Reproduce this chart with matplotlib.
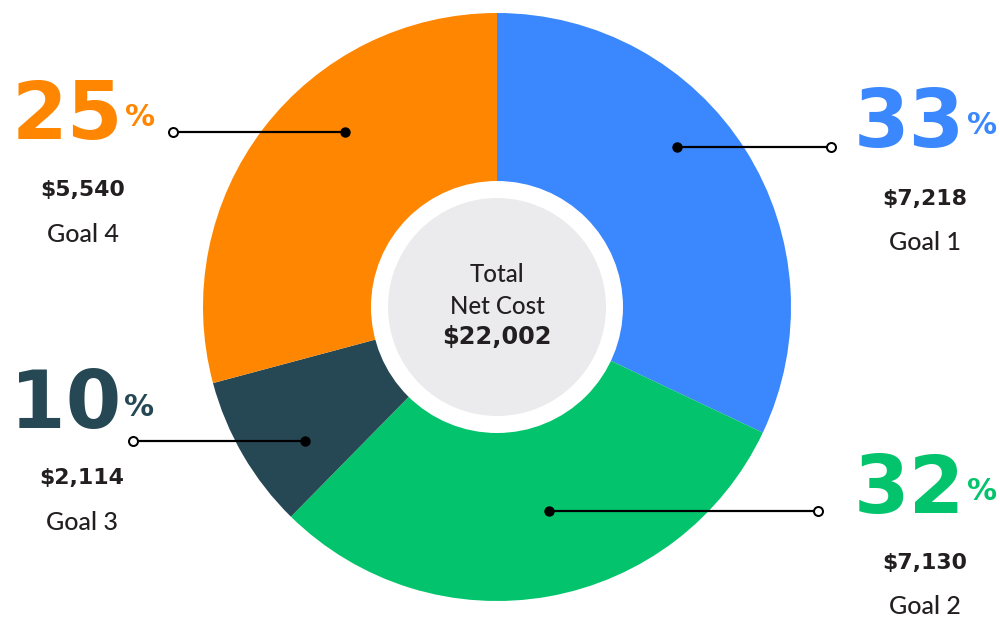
import matplotlib
matplotlib.use("Agg")
import matplotlib.pyplot as plt
from matplotlib.patches import Circle

# ---- data ----
goals = ["Goal 1", "Goal 2", "Goal 3", "Goal 4"]
amounts = ["$7,218", "$7,130", "$2,114", "$5,540"]
percents = ["33", "32", "10", "25"]
# slice sizes as drawn in the picture (degrees of arc)
slice_share = [115.3, 109.2, 30.5, 105.0]
colors = ["#3b87fd", "#03c46c", "#264855", "#ff8600"]
total_title = ["Total", "Net Cost"]
total_value = "$22,002"

TXT = "#231f20"
PX = 72 / 100  # pt per pixel

fig = plt.figure(figsize=(10, 6.21), dpi=100)
ax = fig.add_axes([0, 0, 1, 1])

cx, cy, R = 497, 307, 294
ax.pie(slice_share, colors=colors, startangle=-90, counterclock=True,
       center=(cx, cy), radius=R, wedgeprops=dict(linewidth=0))
ax.add_patch(Circle((cx, cy), 126, facecolor="white", edgecolor="none", zorder=3))
ax.add_patch(Circle((cx, cy), 109, facecolor="#ebebed", edgecolor="none", zorder=4))
ax.set_xlim(0, 1000)
ax.set_ylim(621, 0)
ax.set_aspect("auto")
ax.axis("off")

# center text
ax.text(cx, 274, total_title[0], ha="center", va="center", fontsize=24 * PX,
        family="Lato", fontweight="medium", color=TXT, zorder=5)
ax.text(cx, 306.5, total_title[1], ha="center", va="center", fontsize=24 * PX,
        family="Lato", fontweight="medium", color=TXT, zorder=5)
ax.text(cx, 337, total_value, ha="center", va="center", fontsize=24 * PX,
        family="DejaVu Sans", fontweight="bold", color=TXT, zorder=5)

# layout of labels: (dot x, dot y, open end x, label center x, big number y, amount y, goal y)
layout = [
    (677, 147, 831, 925, 125, 199, 243),
    (549, 511, 818, 925, 491, 563.5, 607),
    (305, 441, 133, 82, 406, 478, 523),
    (345, 132, 173, 83, 117, 190, 234.5),
]

fig.canvas.draw()
r = fig.canvas.get_renderer()
for i, (dx, dy, ex, lx, ny, ay, gy) in enumerate(layout):
    ax.plot([dx, ex], [dy, dy], color="black", lw=2.2 * PX, zorder=6,
            solid_capstyle="butt")
    ax.plot([dx], [dy], marker="o", ms=9 * PX, color="black", zorder=7)
    ax.plot([ex], [dy], marker="o", ms=9 * PX, mfc="white", mec="black",
            mew=2 * PX, zorder=7)
    # big percent number + small % sign, grouped & centered at lx
    big = ax.text(0, ny, percents[i], ha="left", va="center",
                  fontsize=80 * PX, family="DejaVu Sans", fontweight="bold",
                  color=colors[i], zorder=6)
    bw = big.get_window_extent(r).width
    pct = ax.text(0, ny + 1, "%", ha="left", va="center",
                  fontsize=30 * PX, family="DejaVu Sans", fontweight="bold",
                  color=colors[i], zorder=6)
    pw = pct.get_window_extent(r).width
    gap = 2
    tot = bw + gap + pw
    x0 = lx - tot / 2
    big.set_x(x0)
    pct.set_x(x0 + bw + gap)
    ax.text(lx, ay, amounts[i], ha="center", va="center", fontsize=22 * PX,
            family="DejaVu Sans", fontweight="bold", color=TXT, zorder=6)
    ax.text(lx, gy, goals[i], ha="center", va="center", fontsize=25 * PX,
            family="Lato", fontweight="medium", color=TXT, zorder=6)

fig.savefig("out.png", dpi=100, facecolor="white")
